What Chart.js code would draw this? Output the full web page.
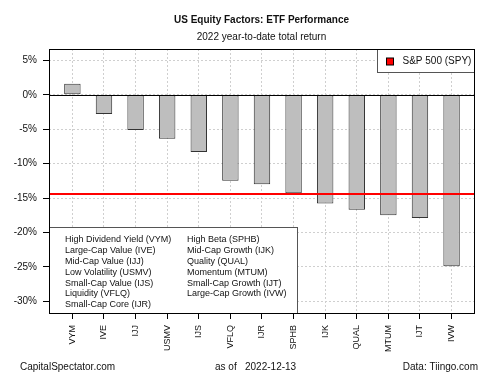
<!DOCTYPE html>
<html>
<head>
<meta charset="utf-8">
<script src="https://cdn.jsdelivr.net/npm/chart.js@4"></script>
<style>
  body { margin: 0; background: #fff; }
  #wrap { width: 500px; height: 375px; }
</style>
</head>
<body>
<div id="wrap"><canvas id="factorCanvas" width="500" height="375"></canvas></div>
<script>
// ETF tickers and 2022 year-to-date total return (%)
const tickers = ["VYM", "IVE", "IJJ", "USMV", "IJS", "VFLQ", "IJR", "SPHB", "IJK", "QUAL", "MTUM", "IJT", "IVW"];
const returns = [1.6, -2.8, -5.1, -6.4, -8.3, -12.5, -13.0, -14.3, -15.8, -16.7, -17.5, -17.9, -24.9];
const spyReturn = -14.4;
const yTicks = [5, 0, -5, -10, -15, -20, -25, -30];

const legendLeft = [
    "High Dividend Yield (VYM)",
    "Large-Cap Value (IVE)",
    "Mid-Cap Value (IJJ)",
    "Low Volatility (USMV)",
    "Small-Cap Value (IJS)",
    "Liquidity (VFLQ)",
    "Small-Cap Core (IJR)",
];
const legendRight = [
    "High Beta (SPHB)",
    "Mid-Cap Growth (IJK)",
    "Quality (QUAL)",
    "Momentum (MTUM)",
    "Small-Cap Growth (IJT)",
    "Large-Cap Growth (IVW)",
];
const spyLabel = "S&P 500 (SPY)";

const FONT = "'Liberation Sans', Arial, sans-serif";
const TXT = "#111";

// titles, footer, reference line, legends and plot frame
const decorations = {
    id: "decorations",
    afterDraw(chart) {
        const ctx = chart.ctx;
        const a = chart.chartArea;
        const y = chart.scales.y;
        const mid = (a.left + a.right) / 2;
        ctx.save();

        // zero line
        ctx.strokeStyle = "#000";
        ctx.lineWidth = 1;
        ctx.beginPath();
        const y0 = Math.round(y.getPixelForValue(0)) + 0.5;
        ctx.moveTo(a.left, y0);
        ctx.lineTo(a.right, y0);
        ctx.stroke();

        // S&P 500 line
        const ys = y.getPixelForValue(spyReturn);
        ctx.strokeStyle = "#ff0000";
        ctx.lineWidth = 2;
        ctx.beginPath();
        ctx.moveTo(a.left, ys);
        ctx.lineTo(a.right, ys);
        ctx.stroke();

        // bottom-left legend
        const bx = a.left + 0.5, bw = 248, bh = 86;
        const by = a.bottom - bh + 0.5;
        ctx.fillStyle = "#fff";
        ctx.fillRect(bx, by, bw, bh);
        ctx.strokeStyle = "#555";
        ctx.lineWidth = 1;
        ctx.strokeRect(bx, by, bw, bh);
        ctx.fillStyle = TXT;
        ctx.font = "9px " + FONT;
        ctx.textBaseline = "middle";
        ctx.textAlign = "left";
        legendLeft.forEach((t, i) => ctx.fillText(t, a.left + 16, by + 12.5 + i * 10.8));
        legendRight.forEach((t, i) => ctx.fillText(t, a.left + 138, by + 12.5 + i * 10.8));

        // top-right legend
        const rx = a.right - 97 + 0.5, ry = a.top + 0.5;
        ctx.fillStyle = "#fff";
        ctx.fillRect(rx, ry, 97, 23);
        ctx.strokeStyle = "#555";
        ctx.strokeRect(rx, ry, 97, 23);
        ctx.fillStyle = "#ff0000";
        ctx.fillRect(rx + 9, ry + 8.5, 7, 7);
        ctx.strokeStyle = "#000";
        ctx.strokeRect(rx + 9, ry + 8.5, 7, 7);
        ctx.fillStyle = TXT;
        ctx.font = "10px " + FONT;
        ctx.fillText(spyLabel, rx + 25, ry + 12);

        // plot frame
        ctx.strokeStyle = "#000";
        ctx.lineWidth = 1;
        ctx.strokeRect(Math.round(a.left) + 0.5, Math.round(a.top) + 0.5,
            Math.round(a.right - a.left), Math.round(a.bottom - a.top));

        // titles
        ctx.fillStyle = TXT;
        ctx.textAlign = "center";
        ctx.font = "bold 10px " + FONT;
        ctx.fillText("US Equity Factors: ETF Performance", mid, 20);
        ctx.font = "10px " + FONT;
        ctx.fillText("2022 year-to-date total return", mid, 37);

        // footer
        ctx.textAlign = "left";
        ctx.fillText("CapitalSpectator.com", 20, 367);
        ctx.fillText("as of", 215, 367);
        ctx.fillText("2022-12-13", 245, 367);
        ctx.textAlign = "right";
        ctx.fillText("Data: Tiingo.com", 478, 367);
        ctx.restore();
    }
};

const factorChart = new Chart(document.getElementById("factorCanvas"), {
    type: "bar",
    data: {
        datasets: [
            {
                label: "2022 YTD",
                data: returns.map((v, i) => ({ x: i, y: v })),
                backgroundColor: "#bebebe",
                borderColor: "#333",
                borderWidth: 1,
                borderSkipped: false,
                categoryPercentage: 1,
                barPercentage: 0.52,
            },
        ],
    },
    options: {
        responsive: false,
        animation: false,
        layout: { padding: { top: 49, right: 26, bottom: 0, left: 0 } },
        plugins: {
            legend: { display: false },
            title: { display: false },
            tooltip: { enabled: false },
        },
        scales: {
            x: {
                type: "linear",
                offset: false,
                min: -0.74,
                max: tickers.length - 0.29,
                afterBuildTicks: (s) => { s.ticks = tickers.map((_, i) => ({ value: i })); },
                afterFit: (s) => { s.height = 62; },
                grid: {
                    offset: false,
                    color: "#cfcfcf",
                    tickColor: "#000",
                    tickLength: 6,
                    tickBorderDash: [],
                },
                border: { display: false, dash: [2, 2] },
                ticks: {
                    autoSkip: false,
                    minRotation: 90,
                    maxRotation: 90,
                    padding: 6,
                    color: TXT,
                    font: { family: FONT, size: 9 },
                    callback: (v) => tickers[v],
                },
            },
            y: {
                min: -31.7,
                max: 6.65,
                afterBuildTicks: (s) => { s.ticks = yTicks.map((v) => ({ value: v })); },
                afterFit: (s) => { s.width = 49; },
                grid: {
                    color: "#cfcfcf",
                    tickColor: "#000",
                    tickLength: 6,
                    tickBorderDash: [],
                },
                border: { display: false, dash: [2, 2] },
                ticks: {
                    padding: 6,
                    color: TXT,
                    font: { family: FONT, size: 10 },
                    callback: (v) => v + "%",
                },
            },
        },
    },
    plugins: [decorations],
});
</script>
</body>
</html>
